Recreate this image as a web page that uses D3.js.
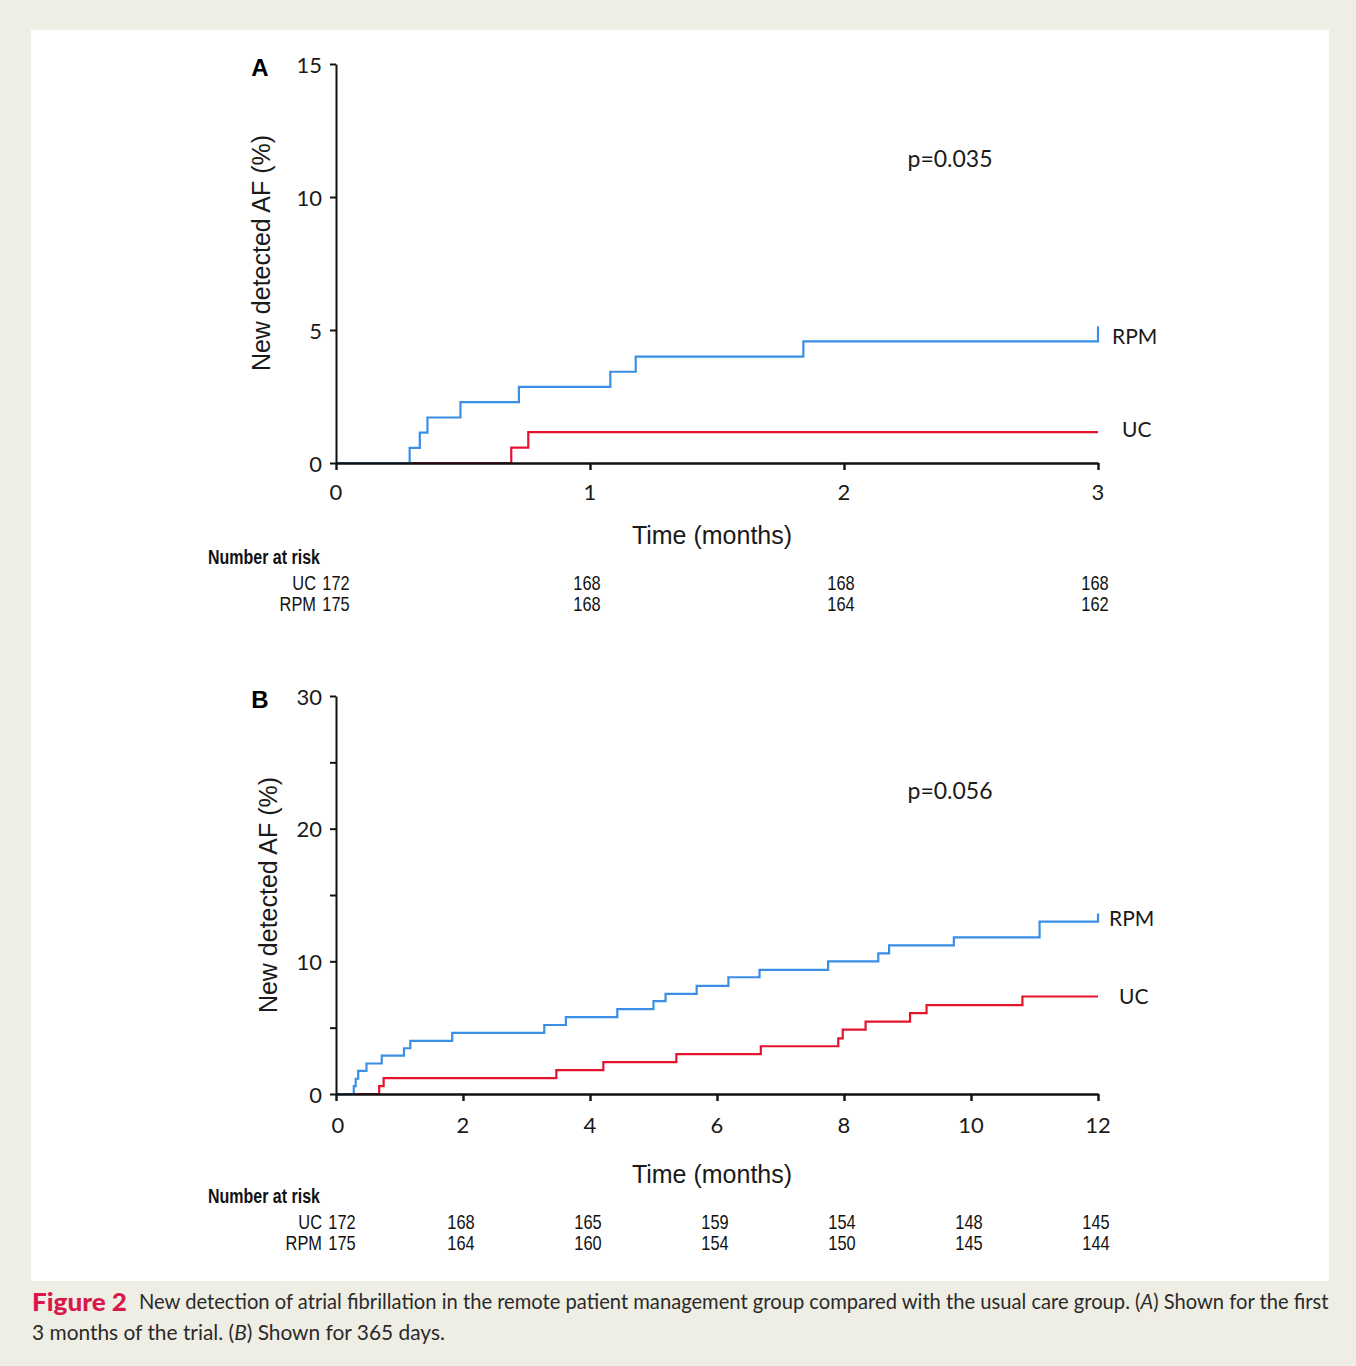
<!DOCTYPE html>
<html>
<head>
<meta charset="utf-8">
<script src="https://cdn.jsdelivr.net/npm/d3@7"></script>
<style>
  body { margin: 0; background: #efeee4; }
</style>
</head>
<body>
<div id="chart"></div>
<script>
//panel A data (first 3 months)
var aRpmTimes = [0, 0.29, 0.33, 0.36, 0.49, 0.72, 1.08, 1.18, 1.84, 3];
var aRpmPct = [0, 0.57, 1.14, 1.71, 2.29, 2.86, 3.43, 4.0, 4.57, 5.14];
var aUcTimes = [0, 0.69, 0.757, 3];
var aUcPct = [0, 0.58, 1.16, 1.16];

//panel B data (365 days)
var bRpmTimes = [0, 0.28, 0.31, 0.35, 0.48, 0.72, 1.07, 1.17, 1.83, 3.28, 3.62, 4.43, 5.0, 5.19, 5.68, 6.18, 6.67, 7.75, 8.54, 8.71, 9.73, 11.08, 12];
var bRpmPct = [0, 0.6, 1.15, 1.75, 2.3, 2.9, 3.45, 4.0, 4.6, 5.2, 5.8, 6.4, 7.0, 7.55, 8.15, 8.8, 9.35, 10.0, 10.6, 11.2, 11.8, 13.0, 13.6];
var bUcTimes = [0, 0.68, 0.75, 3.47, 4.21, 5.36, 6.69, 7.91, 7.98, 8.34, 9.04, 9.3, 10.81, 12];
var bUcPct = [0, 0.6, 1.2, 1.8, 2.4, 3.0, 3.6, 4.2, 4.85, 5.45, 6.1, 6.7, 7.35, 7.35];

//axis ticks
var aXTicks = [0, 1, 2, 3];
var aYTicks = [0, 5, 10, 15];
var aYLabels = [0, 5, 10, 15];
var bXTicks = [0, 2, 4, 6, 8, 10, 12];
var bYTicks = [0, 5, 10, 15, 20, 25, 30];
var bYLabels = [0, 10, 20, 30];

//number at risk tables
var aRiskTimes = [0, 1, 2, 3];
var aRiskUc = [172, 168, 168, 168];
var aRiskRpm = [175, 168, 164, 162];
var bRiskTimes = [0, 2, 4, 6, 8, 10, 12];
var bRiskUc = [172, 168, 165, 159, 154, 148, 145];
var bRiskRpm = [175, 164, 160, 154, 150, 145, 144];

var blue = "#3a8ee6";
var red = "#e5132e";
var numFont = "Lato, 'Open Sans', sans-serif";
var arialFont = "'Liberation Sans', Arial, sans-serif";
var narrowScale = 0.82;

var w = 1356;
var h = 1366;

var svg = d3
  .select("#chart")
  .append("svg")
  .attr("width", w)
  .attr("height", h);

//beige page and white figure box
svg.append("rect").attr("width", w).attr("height", h).attr("fill", "#efeee4");
svg
  .append("rect")
  .attr("x", 31)
  .attr("y", 30)
  .attr("width", 1298)
  .attr("height", 1251)
  .attr("fill", "#ffffff");

function zip(times, pct) {
  return times.map(function (t, i) {
    return { t: t, p: pct[i] };
  });
}

//condensed text (Arial Narrow look) made by squeezing Liberation Sans
function narrowText(parent, x, y, txt, anchor, bold) {
  parent
    .append("g")
    .attr("transform", "translate(" + x + "," + y + ") scale(" + narrowScale + ",1)")
    .append("text")
    .attr("text-anchor", anchor)
    .attr("dominant-baseline", "central")
    .style("font-family", arialFont)
    .style("font-size", bold ? "19.5px" : "20px")
    .style("font-weight", bold ? "bold" : "normal")
    .style("fill", "#111")
    .text(txt);
}

function drawPanel(cfg) {
  var g = svg.append("g");

  var xScale = d3.scaleLinear().domain(cfg.xDomain).range([336, 1098]);
  var yScale = d3.scaleLinear().domain(cfg.yDomain).range([cfg.y0, cfg.yTop]);

  var line = d3
    .line()
    .curve(d3.curveStepAfter)
    .x(function (d) {
      return xScale(d.t);
    })
    .y(function (d) {
      return yScale(d.p);
    });

  //step curves
  g.append("path")
    .attr("d", line(zip(cfg.ucTimes, cfg.ucPct)))
    .attr("fill", "none")
    .attr("stroke", red)
    .attr("stroke-width", 2.2);
  g.append("path")
    .attr("d", line(zip(cfg.rpmTimes, cfg.rpmPct)))
    .attr("fill", "none")
    .attr("stroke", blue)
    .attr("stroke-width", 2.2);

  //x axis
  var xAxis = d3
    .axisBottom(xScale)
    .tickValues(cfg.xTicks)
    .tickSize(7)
    .tickSizeOuter(0)
    .tickFormat("");
  var gx = g
    .append("g")
    .attr("transform", "translate(0," + cfg.y0 + ")")
    .call(xAxis);
  gx.selectAll("path, line").attr("stroke", "#111").attr("stroke-width", 2.4);

  //x tick labels
  g.selectAll(".xlab")
    .data(cfg.xTicks)
    .enter()
    .append("text")
    .attr("x", function (d, i) {
      return xScale(d) + (i === 0 ? cfg.zeroShift : 0);
    })
    .attr("y", cfg.y0 + cfg.xLabelGap)
    .attr("text-anchor", "middle")
    .attr("dominant-baseline", "central")
    .style("font-family", numFont)
    .style("font-size", "22px")
    .style("fill", "#1a1a1a")
    .text(function (d) {
      return d;
    });

  //y axis
  var yAxis = d3
    .axisLeft(yScale)
    .tickValues(cfg.yTicks)
    .tickSize(6)
    .tickSizeOuter(0)
    .tickFormat("");
  var gy = g.append("g").attr("transform", "translate(336,0)").call(yAxis);
  gy.selectAll("path, line").attr("stroke", "#111").attr("stroke-width", 2);

  g.selectAll(".ylab")
    .data(cfg.yLabels)
    .enter()
    .append("text")
    .attr("x", 322)
    .attr("y", function (d) {
      return yScale(d);
    })
    .attr("text-anchor", "end")
    .attr("dominant-baseline", "central")
    .style("font-family", numFont)
    .style("font-size", "22px")
    .style("fill", "#1a1a1a")
    .text(function (d) {
      return d;
    });

  //panel letter
  g.append("text")
    .attr("x", 260)
    .attr("y", cfg.yTop + 3)
    .attr("text-anchor", "middle")
    .attr("dominant-baseline", "central")
    .style("font-family", arialFont)
    .style("font-weight", "bold")
    .style("font-size", "24px")
    .text(cfg.letter);

  //y axis title
  g.append("text")
    .attr("transform", "translate(" + cfg.yTitleX + "," + cfg.yTitleY + ") rotate(-90)")
    .attr("text-anchor", "middle")
    .attr("dominant-baseline", "central")
    .style("font-family", arialFont)
    .style("font-size", "25px")
    .style("fill", "#1a1a1a")
    .text("New detected AF (%)");

  //x axis title
  g.append("text")
    .attr("x", 712)
    .attr("y", cfg.xTitleY)
    .attr("text-anchor", "middle")
    .attr("dominant-baseline", "central")
    .style("font-family", arialFont)
    .style("font-size", "25px")
    .style("fill", "#1a1a1a")
    .text("Time (months)");

  //p value
  g.append("text")
    .attr("x", 950)
    .attr("y", cfg.pY)
    .attr("text-anchor", "middle")
    .attr("dominant-baseline", "central")
    .style("font-family", numFont)
    .style("font-size", "23px")
    .style("fill", "#1a1a1a")
    .text(cfg.pText);

  //series labels
  g.append("text")
    .attr("x", cfg.rpmLabel[0])
    .attr("y", cfg.rpmLabel[1])
    .attr("dominant-baseline", "central")
    .style("font-family", numFont)
    .style("font-size", "21px")
    .style("fill", "#1a1a1a")
    .text("RPM");
  g.append("text")
    .attr("x", cfg.ucLabel[0])
    .attr("y", cfg.ucLabel[1])
    .attr("dominant-baseline", "central")
    .style("font-family", numFont)
    .style("font-size", "21px")
    .style("fill", "#1a1a1a")
    .text("UC");

  //number at risk table
  narrowText(g, 208, cfg.riskY, "Number at risk", "start", true);

  var rows = [
    { name: "UC", values: cfg.riskUc, y: cfg.riskY + 26 },
    { name: "RPM", values: cfg.riskRpm, y: cfg.riskY + 47 },
  ];
  rows.forEach(function (row) {
    narrowText(g, 316 + cfg.riskShift, row.y, row.name, "end", false);
    row.values.forEach(function (v, i) {
      var x = xScale(cfg.riskTimes[i]) + (i === 0 ? cfg.riskShift : cfg.riskNudge);
      narrowText(g, x, row.y, v, "middle", false);
    });
  });
}

drawPanel({
  letter: "A",
  xDomain: [0, 3],
  yDomain: [0, 15],
  y0: 463,
  yTop: 64,
  xTicks: aXTicks,
  yTicks: aYTicks,
  yLabels: aYLabels,
  zeroShift: 0,
  xLabelGap: 28,
  rpmTimes: aRpmTimes,
  rpmPct: aRpmPct,
  ucTimes: aUcTimes,
  ucPct: aUcPct,
  yTitleX: 261,
  yTitleY: 253,
  xTitleY: 535,
  pY: 158,
  pText: "p=0.035",
  rpmLabel: [1112, 335],
  ucLabel: [1122, 428],
  riskY: 557,
  riskTimes: aRiskTimes,
  riskUc: aRiskUc,
  riskRpm: aRiskRpm,
  riskShift: 0,
  riskNudge: -3,
});

drawPanel({
  letter: "B",
  xDomain: [0, 12],
  yDomain: [0, 30],
  y0: 1094,
  yTop: 696,
  xTicks: bXTicks,
  yTicks: bYTicks,
  yLabels: bYLabels,
  zeroShift: 2,
  xLabelGap: 30,
  rpmTimes: bRpmTimes,
  rpmPct: bRpmPct,
  ucTimes: bUcTimes,
  ucPct: bUcPct,
  yTitleX: 268,
  yTitleY: 895,
  xTitleY: 1174,
  pY: 790,
  pText: "p=0.056",
  rpmLabel: [1109, 917],
  ucLabel: [1119, 995],
  riskY: 1196,
  riskTimes: bRiskTimes,
  riskUc: bRiskUc,
  riskRpm: bRiskRpm,
  riskShift: 6,
  riskNudge: -2,
});

//figure caption: "Figure 2" in red, then the text squeezed to the original width
svg
  .append("text")
  .attr("x", 32)
  .attr("y", 1301)
  .attr("dominant-baseline", "central")
  .attr("textLength", 95)
  .attr("lengthAdjust", "spacingAndGlyphs")
  .style("font-family", numFont)
  .style("font-weight", "900")
  .style("font-size", "25px")
  .style("fill", "#d8174a")
  .text("Figure 2");

function captionLine(x, y, parts, target) {
  var grp = svg.append("g").attr("transform", "translate(" + x + "," + y + ")");
  var t = grp
    .append("text")
    .attr("dominant-baseline", "central")
    .style("font-family", numFont)
    .style("font-size", "21px")
    .style("fill", "#2a2a2a");
  parts.forEach(function (p) {
    t.append("tspan")
      .style("font-style", p.italic ? "italic" : "normal")
      .text(p.text);
  });
  var len = t.node().getComputedTextLength();
  var s = Math.min(1, target / len);
  grp.attr("transform", "translate(" + x + "," + y + ") scale(" + s + ",1)");
}

captionLine(
  139,
  1301,
  [
    { text: "New detection of atrial fibrillation in the remote patient management group compared with the usual care group. (" },
    { text: "A", italic: true },
    { text: ") Shown for the first" },
  ],
  1190
);
captionLine(
  32,
  1331,
  [
    { text: "3 months of the trial. (" },
    { text: "B", italic: true },
    { text: ") Shown for 365 days." },
  ],
  413
);
</script>
</body>
</html>
